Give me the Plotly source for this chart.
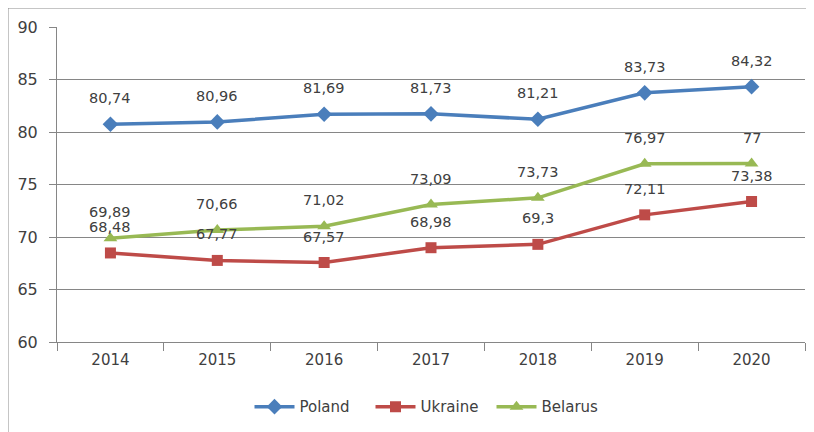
import plotly.graph_objects as go

years = ["2014", "2015", "2016", "2017", "2018", "2019", "2020"]
poland = [80.74, 80.96, 81.69, 81.73, 81.21, 83.73, 84.32]
ukraine = [68.48, 67.77, 67.57, 68.98, 69.3, 72.11, 73.38]
belarus = [69.89, 70.66, 71.02, 73.09, 73.73, 76.97, 77]
y_ticks = [60, 65, 70, 75, 80, 85, 90]

series = [
    ("Poland", poland, "#4A7EBB", "diamond", 12),
    ("Ukraine", ukraine, "#BE4B48", "square", 11),
    ("Belarus", belarus, "#98B954", "triangle-up", 12),
]

FONT = "DejaVu Sans, sans-serif"
TXT = "#404040"

# page body has an 8px default margin
W, H = 806, 424
L, R, T, B = 49, 9, 19, 90

fig = go.Figure()
for name, vals, color, sym, ms in series:
    fig.add_trace(go.Scatter(
        x=years, y=vals, name=name, mode="lines+markers",
        line=dict(color=color, width=3.5),
        marker=dict(symbol=sym, size=ms, color=color),
    ))

# category axis: annotation x given as category index
for name, vals, color, sym, ms in series:
    for i, v in enumerate(vals):
        fig.add_annotation(
            x=i, y=v, xref="x", yref="y", text=f"{v:g}".replace(".", ","),
            showarrow=False, yshift=26, borderpad=0,
            font=dict(family=FONT, size=14.5, color=TXT),
        )

pw = W - L - R
ph = H - T - B
fig.add_shape(
    type="rect", xref="paper", yref="paper",
    x0=(0 - L) / pw, x1=(W + 20 - L) / pw,
    y0=-(B + 20) / ph, y1=1 + (T - 0) / ph,
    line=dict(color="#8C8C8C", width=1), layer="below",
)

fig.update_layout(
    width=W, height=H,
    margin=dict(l=L, r=R, t=T, b=B),
    paper_bgcolor="white", plot_bgcolor="white",
    font=dict(family=FONT, size=15, color=TXT),
    showlegend=True,
    legend=dict(orientation="h", x=0.5, xanchor="center", y=-0.206, yanchor="middle",
                font=dict(family=FONT, size=15, color=TXT), itemwidth=40,
                entrywidth=66, entrywidthmode="pixels"),
    xaxis=dict(
        type="category", tickson="boundaries", ticks="outside", ticklen=8,
        tickcolor="#868686", showline=True, linecolor="#868686", linewidth=1,
        showgrid=False, range=[-0.5, 6.5], tickfont=dict(size=15, color=TXT),
        ticklabelstandoff=4,
    ),
    yaxis=dict(
        range=[60, 90], tickvals=y_ticks, ticks="outside", ticklen=7,
        tickcolor="#868686", showline=True, linecolor="#868686", linewidth=1,
        showgrid=True, gridcolor="#868686", gridwidth=1, zeroline=False,
        tickfont=dict(size=16, color=TXT), ticklabelstandoff=8,
    ),
)

fig.write_html("out.html")
